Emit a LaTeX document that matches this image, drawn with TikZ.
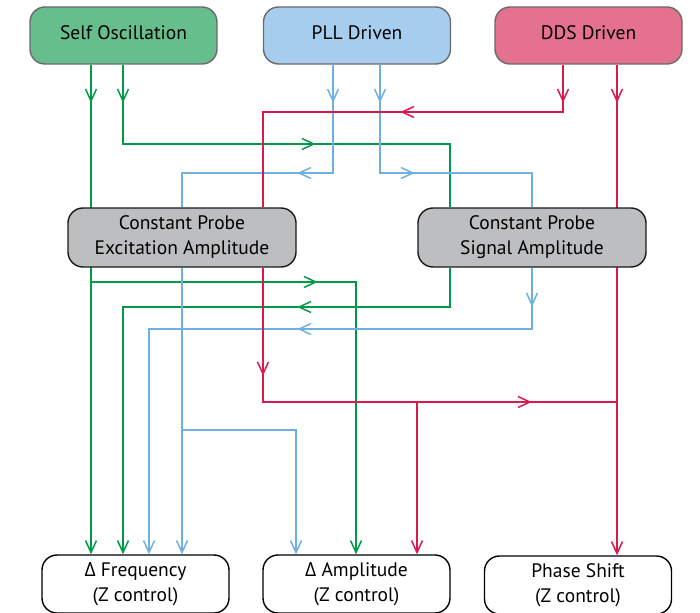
\documentclass[tikz,border=0pt]{standalone}
\usepackage{fontspec}
\setmainfont{PT Sans}
\newfontfamily\grk{Open Sans}
\usetikzlibrary{arrows.meta,decorations.markings}
\pgfdeclarelayer{background}
\pgfsetlayers{background,main}
\definecolor{gline}{HTML}{009A49}
\definecolor{bline}{HTML}{6EB1E1}
\definecolor{rline}{HTML}{D91A4C}
\definecolor{sofill}{HTML}{66BE8C}
\definecolor{pllfill}{HTML}{A7CDEE}
\definecolor{ddsfill}{HTML}{E4718E}
\definecolor{cpfill}{HTML}{BDBEC0}
\definecolor{topborder}{HTML}{6A6A6A}
\tikzset{
  vtip/.tip={Straight Barb[length=12pt,width=11pt]},
  box/.style={rounded corners=15pt, draw, line width=1.4pt, align=center,
    font=\fontsize{19.5}{25}\selectfont, inner sep=0pt},
  topbox/.style={box, draw=topborder, minimum width=187pt, minimum height=57pt, text depth=5pt},
  midbox/.style={box, draw=black!90, fill=cpfill, minimum width=228pt, minimum height=59pt},
  botbox/.style={box, draw=black, fill=white, minimum width=187pt, minimum height=58pt},
  conn/.style={line width=1.5pt},
  gc/.style={conn, draw=gline},
  bc/.style={conn, draw=bline},
  rc/.style={conn, draw=rline},
  endtip/.style={-{vtip}},
  ma/.style={postaction={decorate},
    decoration={markings, mark=at position #1 with {\arrow{vtip}}}},
  mb/.style 2 args={postaction={decorate},
    decoration={markings, mark=at position #1 with {\arrow{vtip}},
      mark=at position #2 with {\arrow{vtip}}}},
}
\begin{document}
\begin{tikzpicture}[x=1pt,y=-1pt]
\useasboundingbox (0,0) rectangle (700,612);
\clip (0,0) rectangle (700,612);

% boxes
\node[topbox, fill=sofill] (so) at (123.5,35.5) {Self Oscillation};
\node[topbox, fill=pllfill] (pll) at (357,35.5) {PLL Driven};
\node[topbox, fill=ddsfill] (dds) at (588.5,35.5) {DDS Driven};
\node[midbox] (cpea) at (182,237.5) {Constant Probe\\Excitation Amplitude};
\node[midbox] (cpsa) at (532,237.5) {Constant Probe\\Signal Amplitude};
\node[botbox] (fr) at (135.5,584) {{\grk Δ} Frequency\\(Z control)};
\node[botbox] (am) at (356.5,584) {{\grk Δ} Amplitude\\(Z control)};
\node[botbox] (ps) at (578,585) {Phase Shift\\(Z control)};

% routing coordinates
\coordinate (xg1) at (91,0);
\coordinate (xg2) at (123,0);
\coordinate (xg3) at (450,0);
\coordinate (xg4) at (356,0);
\coordinate (xb1) at (333,0);
\coordinate (xb2) at (380,0);
\coordinate (xb5) at (149,0);
\coordinate (xb6) at (296,0);
\coordinate (xr1) at (563,0);
\coordinate (xr2) at (617,0);
\coordinate (xr3) at (263,0);
\coordinate (xr4) at (417,0);
\coordinate (yr) at (0,112);
\coordinate (yg) at (0,144);
\coordinate (yb) at (0,173);
\coordinate (yg2) at (0,282);
\coordinate (yg3) at (0,307);
\coordinate (yb2) at (0,329);
\coordinate (yr2) at (0,402);
\coordinate (yb3) at (0,430);

\begin{pgfonlayer}{background}
% green
\draw[gc, endtip, ma=38pt] (so.south -| xg1) -- (fr.north -| xg1);
\draw[gc, endtip, ma=241pt] (cpea.south -| xg1) |- (xg4 |- yg2) -- (am.north -| xg4);
\draw[gc, mb={38pt}{272pt}] (so.south -| xg2) |- (xg3 |- yg) -- (cpsa.north -| xg3);
\draw[gc, endtip, ma=192pt] (cpsa.south -| xg3) |- (xg2 |- yg3) -- (fr.north -| xg2);
% blue
\draw[bc, mb={38pt}{144pt}] (pll.south -| xb1) |- (cpea.north |- yb) -- (cpea.north);
\draw[bc, endtip] (cpea.south) -- (fr.north -| cpea.south);
\draw[bc, endtip] (cpea.south) |- (xb6 |- yb3) -- (am.north -| xb6);
\draw[bc, mb={38pt}{143pt}] (pll.south -| xb2) |- (cpsa.north |- yb) -- (cpsa.north);
\draw[bc, endtip, mb={39pt}{296pt}] (cpsa.south) |- (xb5 |- yb2) -- (fr.north -| xb5);
% red
\draw[rc, mb={38pt}{210pt}] (dds.south -| xr1) |- (xr3 |- yr) -- (cpea.north -| xr3);
\draw[rc, endtip, ma=38pt] (dds.south -| xr2) -- (ps.north -| xr2);
\draw[rc, mb={108pt}{403pt}] (cpea.south -| xr3) |- (xr2 |- yr2);
\draw[rc, endtip] (cpea.south -| xr3) |- (xr4 |- yr2) -- (am.north -| xr4);
\end{pgfonlayer}
\end{tikzpicture}
\end{document}
